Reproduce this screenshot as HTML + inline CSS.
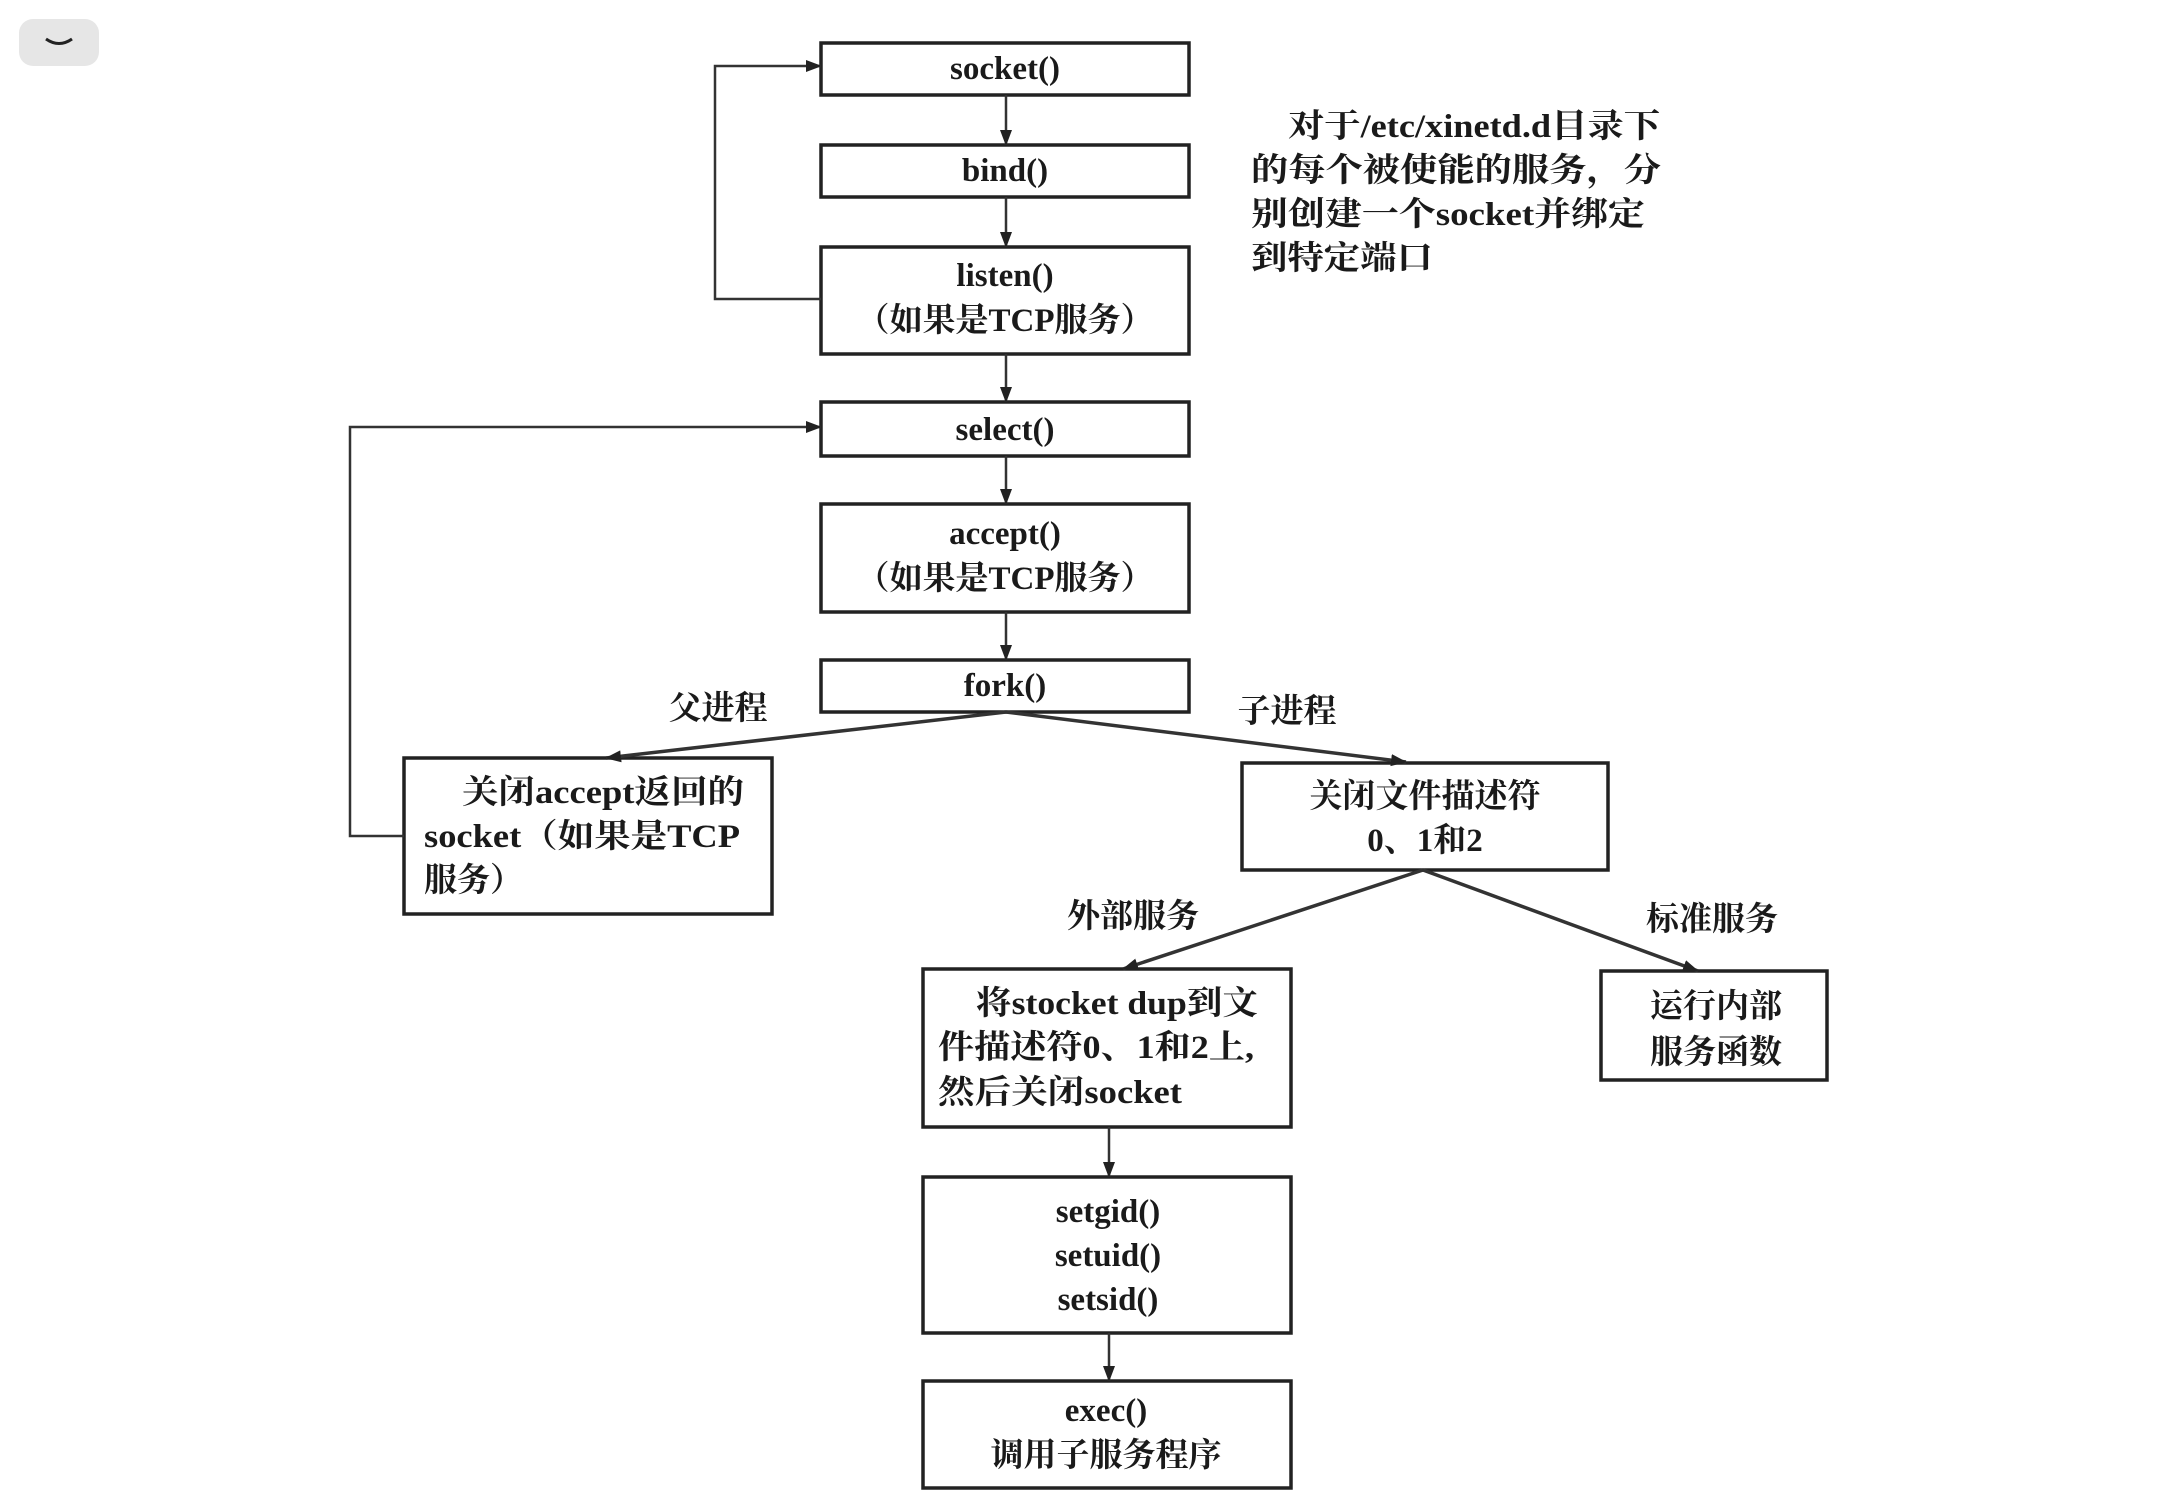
<!DOCTYPE html>
<html><head><meta charset="utf-8"><style>
html,body{margin:0;padding:0;background:#fff;}
svg{display:block}
text{font-family:"Liberation Serif","Noto Serif CJK SC",serif;font-weight:bold;font-size:33px;fill:#1a1a1a;}
</style></head><body>
<svg width="2160" height="1506" viewBox="0 0 2160 1506" xmlns="http://www.w3.org/2000/svg">
<defs><marker id="b" markerWidth="16" markerHeight="14" refX="15" refY="7" orient="auto" markerUnits="userSpaceOnUse"><path d="M0,1 L16,7 L0,13 z" fill="#222"/></marker></defs>
<rect x="19" y="19" width="80" height="47" rx="14" fill="#e6e6e6"/>
<path d="M46 39 Q59 48 72 39" stroke="#222" stroke-width="3" fill="none"/>
<g fill="none" stroke="#222" stroke-width="3.5">
<rect x="821" y="43" width="368" height="52"/>
<rect x="821" y="145" width="368" height="52"/>
<rect x="821" y="247" width="368" height="107"/>
<rect x="821" y="402" width="368" height="54"/>
<rect x="821" y="504" width="368" height="108"/>
<rect x="821" y="660" width="368" height="52"/>
<rect x="404" y="758" width="368" height="156"/>
<rect x="1242" y="763" width="366" height="107"/>
<rect x="923" y="969" width="368" height="158"/>
<rect x="1601" y="971" width="226" height="109"/>
<rect x="923" y="1177" width="368" height="156"/>
<rect x="923" y="1381" width="368" height="107"/>
</g>
<g fill="none" stroke="#333" stroke-width="2.5" marker-end="url(#b)">
<line x1="1006" y1="95" x2="1006" y2="145"/>
<line x1="1006" y1="197" x2="1006" y2="247"/>
<line x1="1006" y1="354" x2="1006" y2="402"/>
<line x1="1006" y1="456" x2="1006" y2="504"/>
<line x1="1006" y1="612" x2="1006" y2="660"/>
<line x1="1109" y1="1127" x2="1109" y2="1177"/>
<line x1="1109" y1="1333" x2="1109" y2="1381"/>
<polyline points="821,299 715,299 715,66 821,66"/>
<polyline points="404,836 350,836 350,427 821,427"/>
</g>
<g fill="none" stroke="#333" stroke-width="3.5" marker-end="url(#b)">
<line x1="1006" y1="712" x2="606" y2="758"/>
<line x1="1006" y1="712" x2="1406" y2="762"/>
<line x1="1423" y1="870" x2="1123" y2="969"/>
<line x1="1423" y1="870" x2="1698" y2="971"/>
</g>
<g text-anchor="middle">
<text x="1005" y="79">socket()</text>
<text x="1005" y="181">bind()</text>
<text x="1005" y="286">listen()</text>
<text x="1005" y="331">（如果是TCP服务）</text>
<text x="1005" y="440">select()</text>
<text x="1005" y="544">accept()</text>
<text x="1005" y="589">（如果是TCP服务）</text>
<text x="1005" y="696">fork()</text>
<text x="1425" y="807">关闭文件描述符</text>
<text x="1425" y="851">0、1和2</text>
<text x="1716" y="1017">运行内部</text>
<text x="1716" y="1063">服务函数</text>
<text x="1108" y="1222">setgid()</text>
<text x="1108" y="1266">setuid()</text>
<text x="1108" y="1310">setsid()</text>
<text x="1106" y="1421">exec()</text>
<text x="1106" y="1466">调用子服务程序</text>
<text x="718" y="719">父进程</text>
<text x="1287" y="722">子进程</text>
<text x="1133" y="927">外部服务</text>
<text x="1712" y="930">标准服务</text>
</g>
<text x="462" y="803" textLength="282" lengthAdjust="spacingAndGlyphs">关闭accept返回的</text>
<text x="424" y="847" textLength="316" lengthAdjust="spacingAndGlyphs">socket（如果是TCP</text>
<text x="424" y="891">服务）</text>
<text x="976" y="1014" textLength="282" lengthAdjust="spacingAndGlyphs">将stocket dup到文</text>
<text x="938" y="1058" textLength="316" lengthAdjust="spacingAndGlyphs">件描述符0、1和2上,</text>
<text x="938" y="1103" textLength="244" lengthAdjust="spacingAndGlyphs">然后关闭socket</text>
<text x="1288" y="137" textLength="372" lengthAdjust="spacingAndGlyphs">对于/etc/xinetd.d目录下</text>
<text x="1251" y="181" textLength="410" lengthAdjust="spacingAndGlyphs">的每个被使能的服务，分</text>
<text x="1251" y="225" textLength="394" lengthAdjust="spacingAndGlyphs">别创建一个socket并绑定</text>
<text x="1251" y="269" textLength="182" lengthAdjust="spacingAndGlyphs">到特定端口</text>
</svg>
</body></html>
